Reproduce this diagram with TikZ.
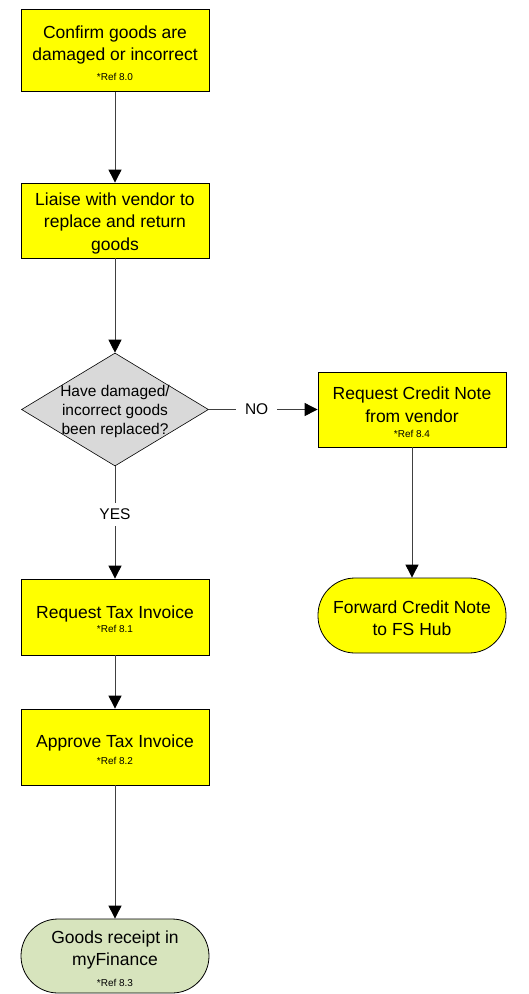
\documentclass[tikz,border=0pt]{standalone}
\usepackage{fontspec}
\setmainfont{Liberation Sans}
\usetikzlibrary{arrows.meta,shapes.geometric}
\definecolor{boxyellow}{HTML}{FFFF00}
\definecolor{decgray}{HTML}{D9D9D9}
\definecolor{termgreen}{HTML}{D7E4BD}
\newcommand{\reftxt}[1]{{\fontsize{10}{11}\selectfont #1}}
\tikzset{
  procbox/.style={draw=black, line width=0.8pt, fill=boxyellow, rectangle,
    minimum width=188pt, inner sep=0pt},
  termbox/.style={draw=black, line width=0.8pt, rectangle, rounded corners=37pt,
    minimum width=188pt, inner sep=0pt},
  boxtext/.style={align=center, inner sep=0pt, yshift=-2.5pt,
    font=\fontsize{17.5}{22.5}\selectfont},
  decbox/.style={draw=black, line width=0.6pt, fill=decgray, diamond, aspect=1.655,
    minimum width=187pt, minimum height=113pt, inner sep=0pt},
  dectext/.style={align=center, inner sep=0pt, yshift=-2pt, font=\fontsize{15.5}{19}\selectfont},
  conn/.style={draw=black!75, line width=0.9pt, -{Triangle[length=13pt,width=13pt,black]}},
  lbl/.style={fill=white, font=\fontsize{15.5}{18}\selectfont, inner xsep=9pt, inner ysep=6pt}
}
\begin{document}
\begin{tikzpicture}[x=1pt,y=-1pt]
\useasboundingbox (0,0) rectangle (529,994);
\node[procbox, minimum height=82pt] (c1) at (115,50.5) {};
\node[boxtext] (c1t) at (c1.center)
  {Confirm goods are\\damaged or incorrect\\[-2.5pt]\reftxt{*Ref 8.0}};
\node[procbox, minimum height=75pt] (c2) at (115,220.5) {};
\node[boxtext] (c2t) at (c2.center)
  {Liaise with vendor to\\replace and return\\goods};
\node[decbox] (d) at (115,409.5) {};
\node[dectext] (dt) at (d.center) {Have damaged/\\incorrect goods\\been replaced?};
\node[procbox, minimum height=75pt] (cr) at (412,409.5) {};
\node[boxtext] (crt) at (cr.center)
  {Request Credit Note\\from vendor\\[-7.5pt]\reftxt{*Ref 8.4}};
\node[termbox, fill=boxyellow, minimum height=75pt] (fw) at (412,615.5) {};
\node[boxtext] (fwt) at (fw.center)
  {Forward Credit Note\\to FS Hub};
\node[procbox, minimum height=76pt] (rt) at (115,617) {};
\node[boxtext] (rtt) at (rt.center)
  {Request Tax Invoice\\[-8.5pt]\reftxt{*Ref 8.1}};
\node[procbox, minimum height=76pt] (ap) at (115,747) {};
\node[boxtext] (apt) at (ap.center)
  {Approve Tax Invoice\\[-6pt]\reftxt{*Ref 8.2}};
\node[termbox, fill=termgreen, minimum height=74pt] (gr) at (115,956) {};
\node[boxtext] (grt) at (gr.center)
  {Goods receipt in\\myFinance\\[-1.5pt]\reftxt{*Ref 8.3}};
\draw[conn] (c1) -- (c2);
\draw[conn] (c2) -- (d);
\draw[conn] (d.east) -- node[lbl, pos=0.44] (no) {NO} (cr.west);
\draw[conn] (d.south) -- node[lbl, pos=0.43] (yes) {YES} (rt.north);
\draw[conn] (cr) -- (fw);
\draw[conn] (rt) -- (ap);
\draw[conn] (ap) -- (gr);
\end{tikzpicture}
\end{document}
